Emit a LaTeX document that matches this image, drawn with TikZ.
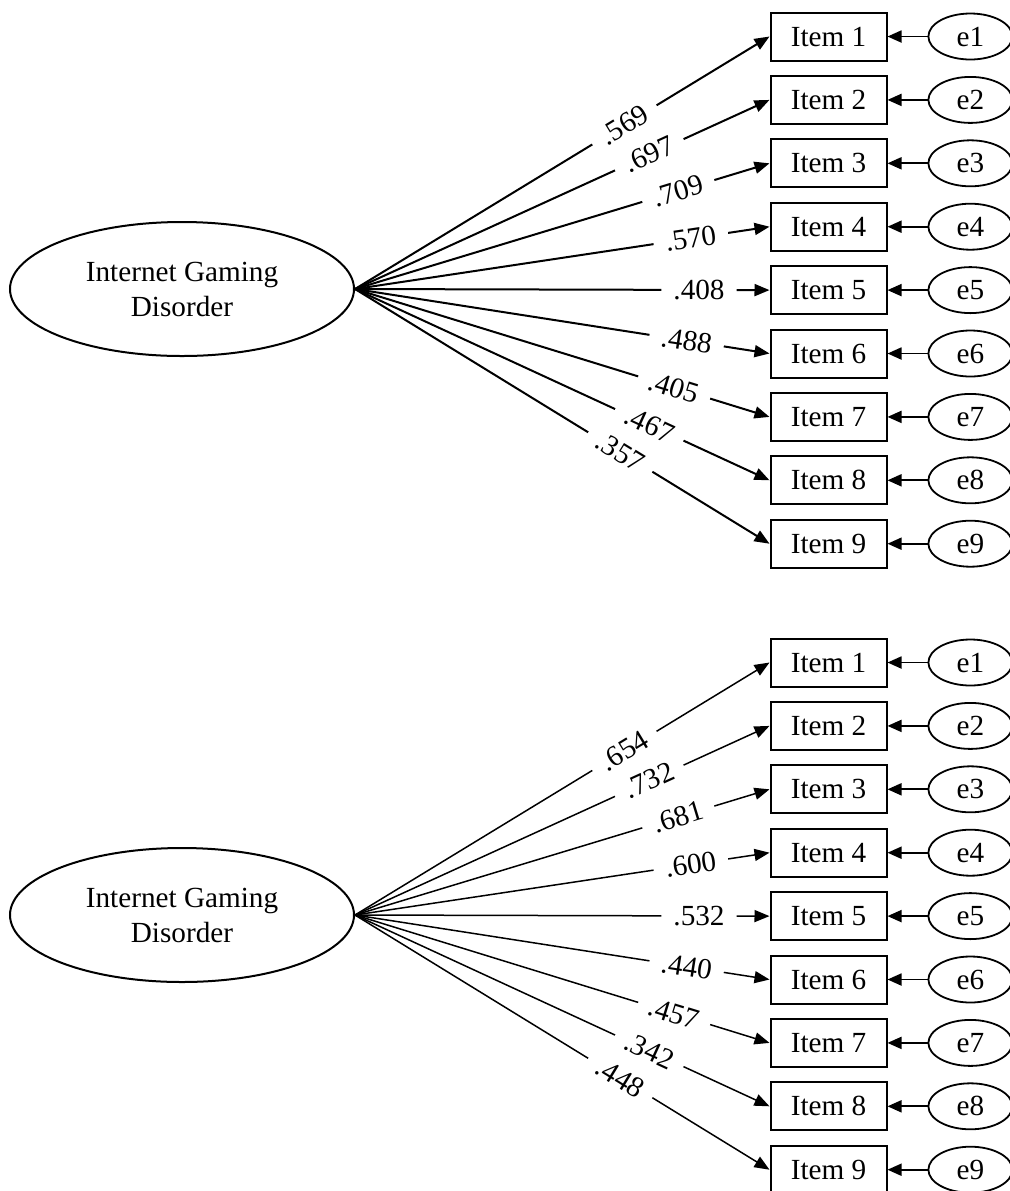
\documentclass[tikz,border=0pt]{standalone}
\usepackage{fontspec}
\setmainfont{Liberation Serif}
\usetikzlibrary{arrows.meta, positioning, shapes.geometric}
\tikzset{
  latent/.style={ellipse, draw, line width=1pt, minimum width=172pt,
    minimum height=67pt, align=center, inner sep=0pt,
    font=\fontsize{14.6}{17.5}\selectfont},
  itembox/.style={rectangle, draw, line width=1pt, minimum width=58pt,
    minimum height=24pt, inner sep=0pt, font=\fontsize{14.6}{16}\selectfont},
  errvar/.style={ellipse, draw, line width=0.9pt, minimum width=42pt,
    minimum height=23pt, inner sep=0pt, font=\fontsize{14.6}{16}\selectfont},
  loading/.style={-{Triangle[length=7.5pt, width=6pt]}, line width=1pt},
  thinloading/.style={loading, line width=0.75pt},
  errarrow/.style={-{Triangle[length=7pt, width=6pt]}, line width=0.9pt},
  coef/.style={sloped, fill=white, inner xsep=6pt, inner ysep=0.5pt,
    font=\fontsize{14.6}{16}\selectfont},
}

\begin{document}
\begin{tikzpicture}[x=0.5pt, y=-0.5pt]
  \useasboundingbox (0,0) rectangle (1009,1191);

  % first sample
  \node[latent] (igdA) at (182,289) {Internet Gaming\\Disorder};
  \node[itembox] (a1) at (828.5,36.5) {Item 1};
  \foreach \i [count=\j from 1] in {2,...,9}
    \node[itembox, below=6.7pt of a\j] (a\i) {Item \i};
  \foreach \i in {1,...,9}
    \node[errvar, right=20pt of a\i] (ea\i) {e\i};

  \foreach \i/\w/\p in {1/.569/0.65, 2/.697/0.71, 3/.709/0.78, 4/.570/0.81,
      5/.408/0.83, 6/.488/0.80, 7/.405/0.77, 8/.467/0.71, 9/.357/0.64}
    \draw[loading] (igdA.east) -- node[coef, pos=\p] {\w} (a\i.west);
  \foreach \i in {1,...,9}
    \draw[errarrow] (ea\i) -- (a\i);

  % second sample
  \node[latent] (igdB) at (182,915) {Internet Gaming\\Disorder};
  \node[itembox] (b1) at (828.5,662.5) {Item 1};
  \foreach \i [count=\j from 1] in {2,...,9}
    \node[itembox, below=6.7pt of b\j] (b\i) {Item \i};
  \foreach \i in {1,...,9}
    \node[errvar, right=20pt of b\i] (eb\i) {e\i};

  \foreach \i/\w/\p in {1/.654/0.65, 2/.732/0.71, 3/.681/0.78, 4/.600/0.81,
      5/.532/0.83, 6/.440/0.80, 7/.457/0.77, 8/.342/0.71, 9/.448/0.64}
    \draw[thinloading] (igdB.east) -- node[coef, pos=\p] {\w} (b\i.west);
  \foreach \i in {1,...,9}
    \draw[errarrow] (eb\i) -- (b\i);
\end{tikzpicture}
\end{document}
